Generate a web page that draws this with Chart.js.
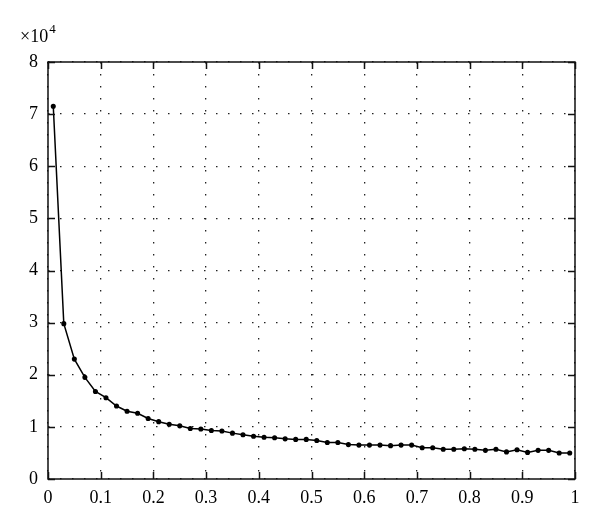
<!DOCTYPE html>
<html>
<head>
<meta charset="utf-8">
<script src="https://cdn.jsdelivr.net/npm/chart.js@4/dist/chart.umd.min.js"></script>
<style>
    html, body { margin: 0; padding: 0; background: #fff; }
    #wrap { width: 600px; height: 527px; }
</style>
</head>
<body>
<div id="wrap"><canvas id="courbe" width="600" height="527"></canvas></div>
<script>
/***************************************************************
 * DONNÉES
 ***************************************************************/
const xValues = [
    0.01, 0.03, 0.05, 0.07, 0.09, 0.11, 0.13, 0.15, 0.17, 0.19,
    0.21, 0.23, 0.25, 0.27, 0.29, 0.31, 0.33, 0.35, 0.37, 0.39,
    0.41, 0.43, 0.45, 0.47, 0.49, 0.51, 0.53, 0.55, 0.57, 0.59,
    0.61, 0.63, 0.65, 0.67, 0.69, 0.71, 0.73, 0.75, 0.77, 0.79,
    0.81, 0.83, 0.85, 0.87, 0.89, 0.91, 0.93, 0.95, 0.97, 0.99
];

const yValues = [
    71500, 29800, 23000, 19500, 16800, 15600, 14000, 13000, 12600, 11600,
    11000, 10500, 10200, 9700, 9600, 9300, 9200, 8800, 8500, 8200,
    8000, 7900, 7700, 7600, 7600, 7400, 7000, 7000, 6600, 6500,
    6500, 6500, 6400, 6500, 6500, 6000, 6000, 5700, 5700, 5800,
    5700, 5500, 5700, 5200, 5600, 5100, 5500, 5500, 5000, 5000
];

const xTicks = [0, 0.1, 0.2, 0.3, 0.4, 0.5, 0.6, 0.7, 0.8, 0.9, 1];
const yTicks = [0, 10000, 20000, 30000, 40000, 50000, 60000, 70000, 80000];
const yExponent = "4";

/***************************************************************
 * PLUGIN : cadre, graduations internes, ×10^4
 ***************************************************************/
const FAMILY = "'Liberation Serif', 'DejaVu Serif', serif";
const TICK = 7;

const cadrePlugin = {
    id: "cadre",
    afterDraw(chart) {
        const { ctx, chartArea: a, scales } = chart;
        ctx.save();
        ctx.strokeStyle = "#111";
        ctx.lineWidth = 1.5;
        ctx.strokeRect(a.left, a.top, a.right - a.left, a.bottom - a.top);

        ctx.beginPath();
        xTicks.forEach(v => {
            const px = Math.round(scales.x.getPixelForValue(v)) + 0.5;
            ctx.moveTo(px, a.bottom); ctx.lineTo(px, a.bottom - TICK);
            ctx.moveTo(px, a.top); ctx.lineTo(px, a.top + TICK);
        });
        yTicks.forEach(v => {
            const py = Math.round(scales.y.getPixelForValue(v)) + 0.5;
            ctx.moveTo(a.left, py); ctx.lineTo(a.left + TICK, py);
            ctx.moveTo(a.right, py); ctx.lineTo(a.right - TICK, py);
        });
        ctx.stroke();

        // multiplicateur de l'axe y
        ctx.fillStyle = "#000";
        ctx.textBaseline = "alphabetic";
        ctx.font = "18px " + FAMILY;
        ctx.fillText("\u00d710", 20, 42);
        const w = ctx.measureText("\u00d710").width;
        ctx.font = "13px " + FAMILY;
        ctx.fillText(yExponent, 20 + w + 1, 33);
        ctx.restore();
    }
};

/***************************************************************
 * GRAPHIQUE
 ***************************************************************/
const points = xValues.map((x, i) => ({ x: x, y: yValues[i] }));

new Chart(document.getElementById("courbe"), {
    type: "scatter",
    data: {
        datasets: [{
            data: points,
            showLine: true,
            borderColor: "#000",
            backgroundColor: "#000",
            borderWidth: 1.5,
            pointRadius: 1.8,
            pointStyle: "circle",
            tension: 0
        }]
    },
    options: {
        responsive: false,
        animation: false,
        layout: { padding: { top: 62, right: 25, left: 0, bottom: 0 } },
        plugins: { legend: { display: false }, tooltip: { enabled: false } },
        scales: {
            x: {
                type: "linear",
                min: 0, max: 1,
                afterBuildTicks: s => { s.ticks = xTicks.map(v => ({ value: v })); },
                afterFit: s => { s.height = 48; },
                ticks: {
                    color: "#000",
                    font: { family: FAMILY, size: 18 },
                    padding: 8,
                    maxRotation: 0,
                    callback: v => String(v)
                },
                grid: { color: "#222", lineWidth: 1.3, drawTicks: false },
                border: { display: false, dash: [1.5, 10.5] }
            },
            y: {
                type: "linear",
                min: 0, max: 80000,
                afterBuildTicks: s => { s.ticks = yTicks.map(v => ({ value: v })); },
                afterFit: s => { s.width = 48; },
                ticks: {
                    color: "#000",
                    font: { family: FAMILY, size: 18 },
                    padding: 10,
                    callback: v => String(v / 10000)
                },
                grid: { color: "#222", lineWidth: 1.3, drawTicks: false },
                border: { display: false, dash: [1.5, 10.5] }
            }
        }
    },
    plugins: [cadrePlugin]
});
</script>
</body>
</html>
